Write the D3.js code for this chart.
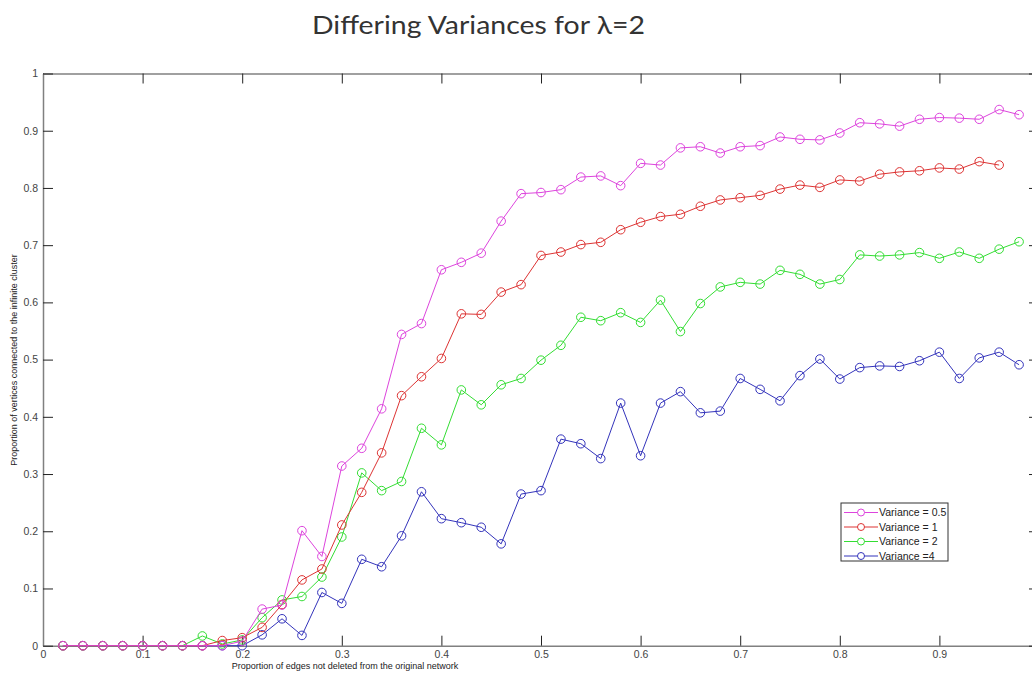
<!DOCTYPE html>
<html>
<head>
<meta charset="utf-8">
<script src="https://d3js.org/d3.v7.min.js"></script>
<style>
  body { margin: 0; background: #fff; }
  svg { display: block; }
</style>
</head>
<body>
<div id="chart"></div>
<script>
  var width = 1032;
  var height = 673;

  // edge proportions sampled in the experiment
  var xValues = [0.02, 0.04, 0.06, 0.08, 0.10, 0.12, 0.14, 0.16, 0.18, 0.20,
                 0.22, 0.24, 0.26, 0.28, 0.30, 0.32, 0.34, 0.36, 0.38, 0.40,
                 0.42, 0.44, 0.46, 0.48, 0.50, 0.52, 0.54, 0.56, 0.58, 0.60,
                 0.62, 0.64, 0.66, 0.68, 0.70, 0.72, 0.74, 0.76, 0.78, 0.80,
                 0.82, 0.84, 0.86, 0.88, 0.90, 0.92, 0.94, 0.96, 0.98];

  var var05 = [0, 0, 0, 0, 0, 0, 0, 0, 0, 0.008,
               0.064, 0.071, 0.201, 0.156, 0.314, 0.345, 0.414, 0.544, 0.563, 0.657,
               0.670, 0.686, 0.742, 0.790, 0.792, 0.797, 0.819, 0.821, 0.804, 0.843,
               0.840, 0.870, 0.872, 0.861, 0.872, 0.874, 0.889, 0.885, 0.884, 0.896,
               0.914, 0.912, 0.908, 0.920, 0.923, 0.922, 0.920, 0.937, 0.928];

  var var1 = [0, 0, 0, 0, 0, 0, 0, 0, 0.009, 0.014,
              0.032, 0.072, 0.115, 0.134, 0.211, 0.268, 0.337, 0.437, 0.470, 0.502,
              0.580, 0.579, 0.618, 0.631, 0.682, 0.688, 0.701, 0.705, 0.727, 0.740,
              0.750, 0.754, 0.768, 0.779, 0.783, 0.787, 0.798, 0.805, 0.801, 0.814,
              0.812, 0.824, 0.828, 0.830, 0.835, 0.833, 0.846, 0.840];

  var var2 = [0, 0, 0, 0, 0, 0, 0, 0.017, 0.003, 0.010,
              0.049, 0.080, 0.086, 0.120, 0.190, 0.302, 0.271, 0.287, 0.380, 0.351,
              0.447, 0.421, 0.456, 0.467, 0.499, 0.525, 0.574, 0.568, 0.582, 0.565,
              0.604, 0.549, 0.598, 0.627, 0.635, 0.632, 0.656, 0.649, 0.632, 0.640,
              0.683, 0.681, 0.683, 0.687, 0.677, 0.688, 0.677, 0.693, 0.706];

  var var4 = [0, 0, 0, 0, 0, 0, 0, 0, 0, 0,
              0.019, 0.047, 0.018, 0.093, 0.074, 0.151, 0.138, 0.192, 0.269, 0.222,
              0.215, 0.207, 0.178, 0.265, 0.271, 0.361, 0.353, 0.327, 0.424, 0.332,
              0.424, 0.444, 0.407, 0.410, 0.467, 0.448, 0.428, 0.472, 0.501, 0.466,
              0.486, 0.489, 0.488, 0.498, 0.513, 0.467, 0.503, 0.513, 0.491];

  var seriesNames = ["Variance = 0.5", "Variance = 1", "Variance = 2", "Variance =4"];
  var seriesValues = [var05, var1, var2, var4];
  var seriesColors = ["#dd44dd", "#dd3333", "#33dd33", "#3333bb"];

  var xTicks = [0, 0.1, 0.2, 0.3, 0.4, 0.5, 0.6, 0.7, 0.8, 0.9, 1];
  var yTicks = [0, 0.1, 0.2, 0.3, 0.4, 0.5, 0.6, 0.7, 0.8, 0.9, 1];

  var plotLeft = 43, plotRight = 1039, plotTop = 73.5, plotBottom = 645.7;

  var xscale = d3.scaleLinear().domain([0, 1]).range([plotLeft, plotRight]);
  var yscale = d3.scaleLinear().domain([0, 1]).range([plotBottom, plotTop]);

  var svg = d3.select("#chart").append("svg")
    .attr("width", width)
    .attr("height", height);

  // title
  svg.append("text")
    .attr("x", 312)
    .attr("y", 34)
    .attr("textLength", 333)
    .attr("lengthAdjust", "spacingAndGlyphs")
    .style("font-family", "Lato, 'Open Sans', sans-serif")
    .style("font-size", "25px")
    .style("fill", "#333")
    .text("Differing Variances for \u03bb=2");

  var tickFmt = function(d) { return d === 0 || d === 1 ? String(d) : d3.format(".1f")(d); };
  // the x=1 label falls past the right edge of the picture
  var xTickFmt = function(d) { return d === 1 ? "" : tickFmt(d); };

  // bottom axis with ticks pointing inward
  var xAxisBottom = svg.append("g")
    .attr("transform", "translate(0," + plotBottom + ")")
    .call(d3.axisBottom(xscale).tickValues(xTicks).tickSizeInner(-10).tickSizeOuter(0).tickPadding(5).tickFormat(xTickFmt));

  var xAxisTop = svg.append("g")
    .attr("transform", "translate(0," + plotTop + ")")
    .call(d3.axisTop(xscale).tickValues(xTicks).tickSizeInner(-10).tickSizeOuter(0).tickFormat(""));

  var yAxisLeft = svg.append("g")
    .attr("transform", "translate(" + plotLeft + ",0)")
    .call(d3.axisLeft(yscale).tickValues(yTicks).tickSizeInner(-10).tickSizeOuter(0).tickPadding(5).tickFormat(tickFmt));

  var yAxisRight = svg.append("g")
    .attr("transform", "translate(" + plotRight + ",0)")
    .call(d3.axisRight(yscale).tickValues(yTicks).tickSizeInner(-10).tickSizeOuter(0).tickFormat(""));

  [xAxisBottom, xAxisTop, yAxisLeft, yAxisRight].forEach(function(ax) {
    ax.select(".domain").attr("stroke", "#808080").attr("stroke-width", 1.5);
    ax.selectAll(".tick line").attr("stroke", "#222").attr("stroke-width", 1);
    ax.selectAll(".tick text")
      .style("font-family", "Arial, 'Liberation Sans', sans-serif")
      .style("font-size", "10.5px")
      .style("fill", "#444");
  });

  // axis titles
  svg.append("text")
    .attr("x", 345)
    .attr("y", 669)
    .attr("text-anchor", "middle")
    .style("font-family", "Arial, 'Liberation Sans', sans-serif")
    .style("font-size", "9px")
    .style("fill", "#222")
    .text("Proportion of edges not deleted from the original network");

  svg.append("text")
    .attr("transform", "translate(17,360) rotate(-90)")
    .attr("text-anchor", "middle")
    .style("font-family", "Arial, 'Liberation Sans', sans-serif")
    .style("font-size", "9px")
    .style("fill", "#222")
    .text("Proportion of vertices connected to the infinite cluster");

  // series lines and circle markers
  var line = d3.line()
    .x(function(d) { return xscale(d[0]); })
    .y(function(d) { return yscale(d[1]); });

  // draw in reverse so magenta sits on top, blue underneath
  for (var s = seriesValues.length - 1; s >= 0; s--) {
    var pts = seriesValues[s].map(function(v, i) { return [xValues[i], v]; });
    var g = svg.append("g");
    g.append("path")
      .datum(pts)
      .attr("d", line)
      .attr("fill", "none")
      .attr("stroke", seriesColors[s])
      .attr("stroke-width", 1);
    g.selectAll("circle")
      .data(pts)
      .enter().append("circle")
      .attr("cx", function(d) { return xscale(d[0]); })
      .attr("cy", function(d) { return yscale(d[1]); })
      .attr("r", 4.3)
      .attr("fill", "none")
      .attr("stroke", seriesColors[s])
      .attr("stroke-width", 1);
  }

  // legend
  var legend = svg.append("g").attr("transform", "translate(841,503)");
  legend.append("rect")
    .attr("x", 0).attr("y", 0)
    .attr("width", 107).attr("height", 58)
    .attr("fill", "#fff")
    .attr("stroke", "#333")
    .attr("stroke-width", 1);

  var entries = legend.selectAll(".entry")
    .data(seriesNames)
    .enter().append("g")
    .attr("transform", function(d, i) { return "translate(0," + (9.5 + i * 14.5) + ")"; });

  entries.append("line")
    .attr("x1", 3).attr("x2", 37)
    .attr("y1", 0).attr("y2", 0)
    .attr("stroke", function(d, i) { return seriesColors[i]; })
    .attr("stroke-width", 1);
  entries.append("circle")
    .attr("cx", 20).attr("cy", 0).attr("r", 3.5)
    .attr("fill", "#fff")
    .attr("stroke", function(d, i) { return seriesColors[i]; });
  entries.append("text")
    .attr("x", 38)
    .attr("y", 0)
    .attr("dy", "0.35em")
    .style("font-family", "Arial, 'Liberation Sans', sans-serif")
    .style("font-size", "10.5px")
    .style("fill", "#222")
    .text(function(d) { return d; });
</script>
</body>
</html>
